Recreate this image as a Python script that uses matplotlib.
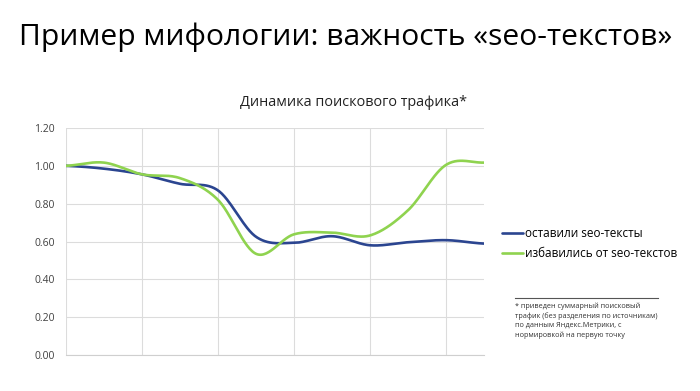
import matplotlib
matplotlib.use("Agg")
import matplotlib.pyplot as plt
import numpy as np

plt.rcParams["font.family"] = ["Open Sans", "DejaVu Sans"]

# ── data ────────────────────────────────────────────────────────────────
periods = list(range(12))
kept_seo = [1.00, 0.985, 0.955, 0.905, 0.87, 0.625, 0.593, 0.628, 0.58, 0.596, 0.607, 0.589]
dropped_seo = [1.00, 1.017, 0.955, 0.935, 0.82, 0.535, 0.638, 0.647, 0.632, 0.765, 1.005, 1.017]
y_ticks = [0.0, 0.2, 0.4, 0.6, 0.8, 1.0, 1.2]

BLUE = "#2b4590"
GREEN = "#8fd34f"


def smooth(x, y, n=30):
    """Catmull-Rom curve through the points, like Excel's smoothed line."""
    x = np.asarray(x, float)
    y = np.asarray(y, float)
    px = np.concatenate([[2 * x[0] - x[1]], x, [2 * x[-1] - x[-2]]])
    py = np.concatenate([[y[0]], y, [y[-1]]])
    xs, ys = [], []
    t = np.linspace(0, 1, n, endpoint=False)
    for i in range(1, len(px) - 2):
        p0, p1, p2, p3 = py[i - 1], py[i], py[i + 1], py[i + 2]
        ys.append(0.5 * (2 * p1 + (-p0 + p2) * t + (2 * p0 - 5 * p1 + 4 * p2 - p3) * t**2
                         + (-p0 + 3 * p1 - 3 * p2 + p3) * t**3))
        xs.append(px[i] + (px[i + 1] - px[i]) * t)
    xs.append([x[-1]])
    ys.append([y[-1]])
    return np.concatenate(xs), np.concatenate(ys)


fig = plt.figure(figsize=(7, 3.91), dpi=100)
fig.text(346 / 700, 0.905, "Пример мифологии: важность «seo-текстов»",
         ha="center", va="center", fontsize=21.6, color="black")

ax = fig.add_axes([66 / 700, 36 / 391, 418 / 700, 227 / 391])
for vals, color, label in [(kept_seo, BLUE, "оставили seo-тексты"),
                           (dropped_seo, GREEN, "избавились от seo-текстов")]:
    sx, sy = smooth(periods, vals)
    ax.plot(sx, sy, color=color, lw=1.9, label=label, solid_capstyle="round")

ax.set_xlim(0, 11)
ax.set_ylim(0, 1.2)
ax.set_yticks(y_ticks)
ax.set_yticklabels([f"{v:.2f}" for v in y_ticks], fontsize=7.5, color="#404040")
ax.set_xticks(range(0, 12, 2))
ax.set_xticklabels([])
ax.tick_params(length=0, pad=8)
ax.grid(True, color="#dcdcdc", lw=0.8)
ax.set_axisbelow(True)
for side in ["top", "right", "left"]:
    ax.spines[side].set_visible(False)
ax.spines["bottom"].set_color("#cfcfcf")

fig.text(354 / 700, 1 - 103 / 391, "Динамика поискового трафика*",
         ha="center", va="center", fontsize=10.4, color="#222222")

fig.legend(loc="upper left", bbox_to_anchor=(497 / 700, 1 - 222 / 391), frameon=False,
           fontsize=8.5, handlelength=1.8, handletextpad=0.2, labelspacing=0.6,
           borderaxespad=0)

fig.add_artist(plt.Line2D([515 / 700, 658 / 700], [1 - 298 / 391] * 2, color="#555555", lw=0.8))
fig.text(515 / 700, 1 - 302 / 391,
         "* приведен суммарный поисковый\nтрафик (без разделения по источникам)\n"
         "по данным Яндекс.Метрики, с\nнормировкой на первую точку",
         ha="left", va="top", fontsize=5.2, color="#333333", linespacing=1.45)

fig.savefig("out.png", dpi=100)
